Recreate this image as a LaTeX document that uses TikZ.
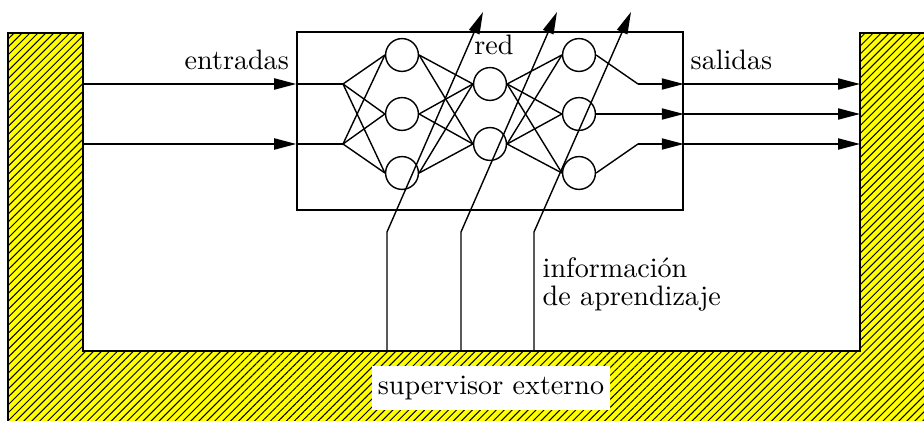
\documentclass[tikz,border=0pt]{standalone}
\usetikzlibrary{arrows.meta,patterns.meta,positioning}
\definecolor{wallyellow}{HTML}{FFFF00}

\begin{document}
\begin{tikzpicture}[
  x=0.0125cm,y=-0.0125cm,line width=0.5pt,
  neuron/.style={draw,circle,minimum size=4.1mm,inner sep=0pt},
  arrow/.style={-{Triangle[length=2.75mm,width=1.4mm]}},
  wall/.style={draw,fill=wallyellow,postaction={pattern={Lines[angle=45,distance=2pt,line width=0.35pt]}}},
  lbl/.style={font=\fontsize{10}{9.9}\selectfont,inner sep=0pt}
]
  \useasboundingbox (0,0) rectangle (924,421);

  % supervisor (hatched wall)
  \begin{scope}
    \clip (0,0) rectangle (924,421);
    \draw[wall] (8,440) -- (8,33) -- (83,33) -- (83,351) -- (860,351) -- (860,33) -- (940,33) -- (940,440) -- cycle;
  \end{scope}
  \node[lbl,fill=white,minimum width=2.975cm,minimum height=0.55cm] (sup) at (491,388) {supervisor externo};

  % network box and neurons
  \node[draw,minimum width=4.825cm,minimum height=2.225cm] (net) at (490,121) {};
  \node[neuron] (l1a) at (402,55) {};
  \node[neuron] (l1b) at (402,114) {};
  \node[neuron] (l1c) at (402,173) {};
  \node[neuron] (l2a) at (490,84) {};
  \node[neuron] (l2b) at (490,144) {};
  \node[neuron] (l3a) at (579,55) {};
  \node[neuron] (l3b) at (579,114) {};
  \node[neuron] (l3c) at (579,173) {};

  \coordinate (e1) at (83,84);
  \coordinate (e2) at (83,144);
  \coordinate (in1) at (343,84);
  \coordinate (in2) at (343,144);
  \coordinate (o1) at (638,84);
  \coordinate (o3) at (638,144);

  \node[lbl,anchor=base west] (entradas) at (184,70) {entradas};
  \node[lbl,anchor=base] (red) at (494,55) {red};
  \node[lbl,anchor=base west] (salidas) at (690,70) {salidas};
  \node[lbl,anchor=north west,align=left] (info) at (542,257) {informaci\'on\\de aprendizaje};

  % inputs
  \draw[arrow] (e1) -- (e1 -| net.west);
  \draw[arrow] (e2) -- (e2 -| net.west);
  \draw (e1 -| net.west) -- (in1);
  \draw (e2 -| net.west) -- (in2);
  \draw (in1) -- (l1a.west);
  \draw (in1) -- (l1b.west);
  \draw (in1) -- (l1c.west);
  \draw (in2) -- (l1a.west);
  \draw (in2) -- (l1b.west);
  \draw (in2) -- (l1c.west);

  % hidden connections
  \draw (l1a.east) -- (l2a.west);
  \draw (l1a.east) -- (l2b.west);
  \draw (l1b.east) -- (l2a.west);
  \draw (l1b.east) -- (l2b.west);
  \draw (l1c.east) -- (l2a.west);
  \draw (l1c.east) -- (l2b.west);
  \draw (l2a.east) -- (l3a.west);
  \draw (l2a.east) -- (l3b.west);
  \draw (l2a.east) -- (l3c.west);
  \draw (l2b.east) -- (l3a.west);
  \draw (l2b.east) -- (l3b.west);
  \draw (l2b.east) -- (l3c.west);

  % outputs
  \draw (l3a.east) -- (o1);
  \draw (l3c.east) -- (o3);
  \draw[arrow] (o1) -- (o1 -| net.east);
  \draw[arrow] (l3b.east) -- (l3b.east -| net.east);
  \draw[arrow] (o3) -- (o3 -| net.east);
  \draw[arrow] (o1 -| net.east) -- (860,84);
  \draw[arrow] (l3b.east -| net.east) -- (860,114);
  \draw[arrow] (o3 -| net.east) -- (860,144);

  % learning information
  \coordinate (s1) at (387,351);
  \coordinate (s2) at (461,351);
  \coordinate (s3) at (534,351);
  \coordinate (t1) at (483,12);
  \coordinate (t2) at (557,12);
  \coordinate (t3) at (631,12);
  \draw[arrow] (s1) -- (387,232) -- (t1);
  \draw[arrow] (s2) -- (461,232) -- (t2);
  \draw[arrow] (s3) -- (534,232) -- (t3);
\end{tikzpicture}
\end{document}
